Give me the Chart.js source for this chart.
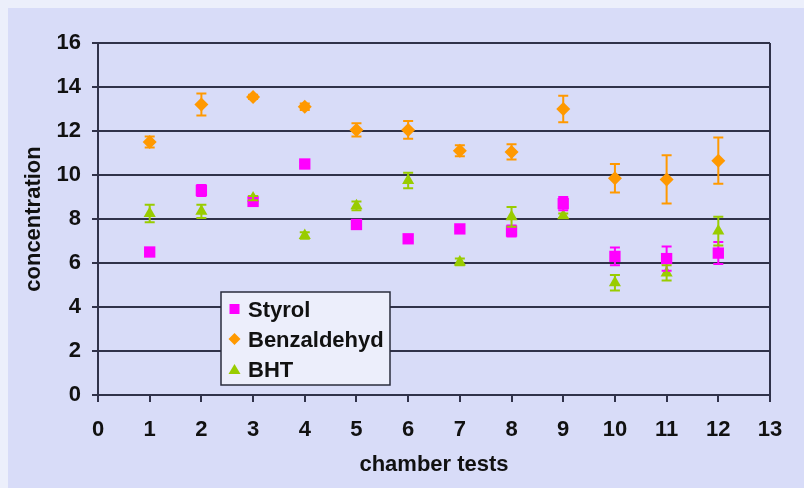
<!DOCTYPE html>
<html>
<head>
<meta charset="utf-8">
<script src="https://cdn.jsdelivr.net/npm/chart.js@4"></script>
<style>
  html, body { margin: 0; padding: 0; background: #eceffb; }
  #wrap { position: relative; width: 804px; height: 488px; }
  canvas { display: block; }
</style>
</head>
<body>
<div id="wrap"><canvas id="c" width="804" height="488"></canvas></div>
<script>
// ---- data ----
const tests = [1, 2, 3, 4, 5, 6, 7, 8, 9, 10, 11, 12];
const styrol      = [6.5, 9.3, 8.8, 10.5, 7.75, 7.1, 7.55, 7.45, 8.7, 6.3, 6.2, 6.45];
const styrolErr   = [0.1, 0.25, 0.1, 0.1, 0.1, 0.15, 0.1, 0.25, 0.3, 0.4, 0.55, 0.5];
const benzal      = [11.5, 13.2, 13.55, 13.1, 12.05, 12.05, 11.1, 11.05, 13.0, 9.85, 9.8, 10.65];
const benzalErr   = [0.25, 0.5, 0.1, 0.15, 0.3, 0.4, 0.25, 0.35, 0.6, 0.65, 1.1, 1.05];
const bht         = [8.25, 8.35, 8.95, 7.25, 8.6, 9.75, 6.05, 8.1, 8.15, 5.1, 5.55, 7.45];
const bhtErr      = [0.4, 0.3, 0.1, 0.15, 0.2, 0.35, 0.15, 0.45, 0.1, 0.35, 0.35, 0.65];
const seriesNames = ['Styrol', 'Benzaldehyd', 'BHT'];
const xTitle = 'chamber tests';
const yTitle = 'concentration';

const cMag = '#ff00ff', cOr = '#ff9900', cGr = '#99cc00';
const pts = (ys) => tests.map((x, i) => ({ x: x, y: ys[i] }));
const FAM = '"Liberation Sans", Arial, sans-serif';

const bgPlugin = {
  id: 'bg',
  beforeDraw(chart) {
    const ctx = chart.ctx;
    ctx.save();
    ctx.fillStyle = '#eceffb';
    ctx.fillRect(0, 0, chart.width, chart.height);
    ctx.fillStyle = '#d8dcf8';
    ctx.fillRect(8, 8, chart.width - 8, chart.height - 8);
    ctx.restore();
  }
};

const framePlugin = {
  id: 'frame',
  beforeDatasetsDraw(chart) {
    const { ctx, chartArea: a } = chart;
    ctx.save();
    ctx.strokeStyle = '#30324a';
    ctx.lineWidth = 2;
    ctx.beginPath();
    ctx.moveTo(a.right, a.top);
    ctx.lineTo(a.right, a.bottom + 7);
    ctx.stroke();
    ctx.restore();
  }
};

const errPlugin = {
  id: 'err',
  afterDatasetsDraw(chart) {
    const ctx = chart.ctx;
    const xs = chart.scales.x, ys = chart.scales.y;
    ctx.save();
    chart.data.datasets.forEach((ds) => {
      ctx.strokeStyle = ds.backgroundColor;
      ctx.lineWidth = 2;
      ds.data.forEach((p, i) => {
        const e = ds.errors[i];
        const px = xs.getPixelForValue(p.x);
        const y1 = ys.getPixelForValue(p.y + e);
        const y2 = ys.getPixelForValue(p.y - e);
        ctx.beginPath();
        ctx.moveTo(px, y1); ctx.lineTo(px, y2);
        ctx.moveTo(px - 5, y1); ctx.lineTo(px + 5, y1);
        ctx.moveTo(px - 5, y2); ctx.lineTo(px + 5, y2);
        ctx.stroke();
      });
    });
    ctx.restore();
  }
};

const legendPlugin = {
  id: 'boxLegend',
  afterDraw(chart) {
    const ctx = chart.ctx;
    const bx = 221, by = 292, bw = 169, bh = 93;
    ctx.save();
    ctx.fillStyle = '#eceefb';
    ctx.fillRect(bx, by, bw, bh);
    ctx.strokeStyle = '#2a2c3c';
    ctx.lineWidth = 1.5;
    ctx.strokeRect(bx, by, bw, bh);
    ctx.font = 'bold 22px ' + FAM;
    ctx.textBaseline = 'alphabetic';
    chart.data.datasets.forEach((ds, i) => {
      const cy = by + 17 + i * 30;
      const mx = bx + 13.5;
      ctx.fillStyle = ds.backgroundColor;
      ctx.beginPath();
      if (ds.pointStyle === 'rect') {
        ctx.rect(mx - 5, cy - 5, 10, 10);
      } else if (ds.pointStyle === 'rectRot') {
        ctx.moveTo(mx, cy - 6); ctx.lineTo(mx + 6, cy); ctx.lineTo(mx, cy + 6); ctx.lineTo(mx - 6, cy);
        ctx.closePath();
      } else {
        ctx.moveTo(mx, cy - 5); ctx.lineTo(mx + 6, cy + 5); ctx.lineTo(mx - 6, cy + 5);
        ctx.closePath();
      }
      ctx.fill();
      ctx.fillStyle = '#111111';
      ctx.fillText(ds.label, bx + 27, cy + 8);
    });
    ctx.restore();
  }
};

const tickFont = { family: FAM, size: 22, weight: 'bold' };

new Chart(document.getElementById('c'), {
  type: 'scatter',
  data: {
    datasets: [
      { label: seriesNames[0], data: pts(styrol), errors: styrolErr, backgroundColor: cMag, borderColor: cMag,
        pointStyle: 'rect', pointRadius: 8, borderWidth: 0 },
      { label: seriesNames[1], data: pts(benzal), errors: benzalErr, backgroundColor: cOr, borderColor: cOr,
        pointStyle: 'rectRot', pointRadius: 7, borderWidth: 0 },
      { label: seriesNames[2], data: pts(bht), errors: bhtErr, backgroundColor: cGr, borderColor: cGr,
        pointStyle: 'triangle', pointRadius: 7, borderWidth: 0 }
    ]
  },
  options: {
    responsive: false,
    animation: false,
    layout: { padding: { top: 43, right: 34, left: 0, bottom: 0 } },
    plugins: { legend: { display: false }, tooltip: { enabled: false } },
    scales: {
      x: {
        type: 'linear', min: 0, max: 13,
        ticks: { stepSize: 1, color: '#111', font: tickFont, padding: 15, maxRotation: 0, autoSkip: false },
        grid: { drawOnChartArea: false, drawTicks: true, tickLength: 7, color: '#30324a', lineWidth: 2 },
        border: { color: '#30324a', width: 2 },
        title: { display: true, text: xTitle, color: '#111', padding: { top: 0, bottom: 10 },
                 font: { family: FAM, size: 22, weight: 'bold' } },
        afterFit: (s) => { s.height = 93; }
      },
      y: {
        type: 'linear', min: 0, max: 16,
        ticks: { stepSize: 2, color: '#111', font: tickFont, padding: 11 },
        grid: { drawTicks: true, tickLength: 6, color: '#30324a', lineWidth: 2 },
        border: { color: '#30324a', width: 2 },
        title: { display: true, text: yTitle, color: '#111', padding: { top: 21, bottom: 0 },
                 font: { family: FAM, size: 22, weight: 'bold' } },
        afterFit: (s) => { s.width = 98; }
      }
    }
  },
  plugins: [bgPlugin, framePlugin, errPlugin, legendPlugin]
});
</script>
</body>
</html>
